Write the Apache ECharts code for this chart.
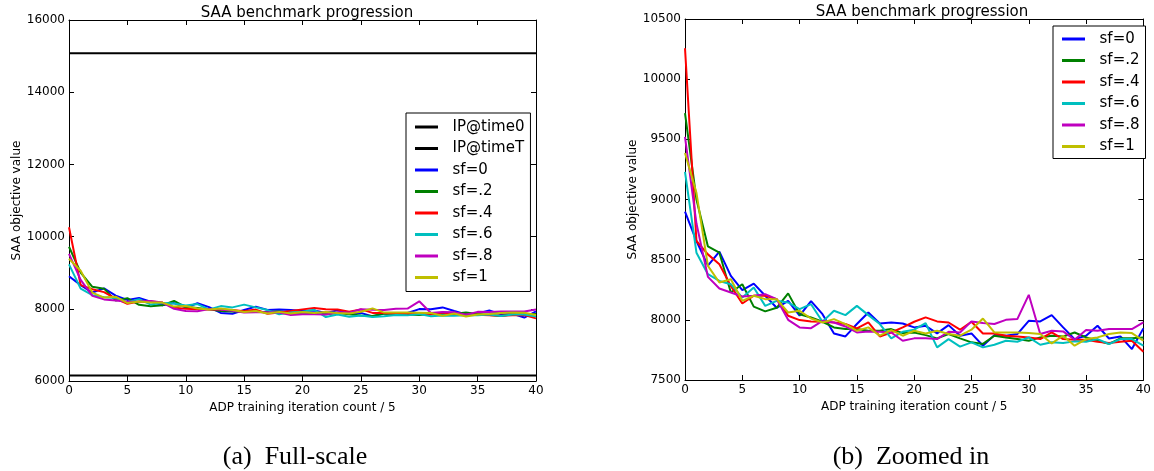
<!DOCTYPE html>
<html>
<head>
<meta charset="utf-8">
<script src="https://cdn.jsdelivr.net/npm/echarts@6/dist/echarts.min.js"></script>
<style>
html,body{margin:0;padding:0;background:#fff;}
#c{width:1154px;height:471px;}
</style>
</head>
<body>
<div id="c"></div>
<script>
const iters = [0,1,2,3,4,5,6,7,8,9,10,11,12,13,14,15,16,17,18,19,20,21,22,23,24,25,26,27,28,29,30,31,32,33,34,35,36,37,38,39,40];
const ipX = [0, 40];
const ipTime0 = [15080, 15080];
const ipTimeT = [6150, 6150];
const sf0  = [8900,8655,8450,8567,8365,8246,8301,8200,8100,8158,8034,8155,8047,7887,7862,7965,8061,7970,7978,7970,7937,7950,7887,7956,7868,7887,7785,7873,7868,7882,7992,7987,8039,7937,7840,7868,7951,7845,7862,7757,7929];
const sf02 = [9718,9000,8610,8558,8227,8296,8110,8070,8100,8220,8047,8020,7984,7937,7923,7923,7909,7909,7923,7890,7895,7873,7846,7882,7846,7813,7800,7868,7854,7840,7826,7854,7868,7862,7895,7854,7826,7800,7846,7846,7854];
const sf04 = [10257,8655,8544,8462,8282,8136,8200,8200,8172,8034,7998,7987,7984,7978,7965,7929,7978,7862,7895,7937,7984,8020,7987,7978,7918,7984,7887,7887,7868,7862,7854,7840,7895,7840,7835,7835,7818,7807,7818,7826,7735];
const sf06 = [9230,8558,8379,8323,8296,8185,8268,8116,8158,8144,8089,8130,7984,8075,8039,8116,8039,7965,7846,7901,7918,7973,7771,7840,7777,7813,7771,7793,7826,7818,7854,7793,7813,7807,7821,7818,7840,7799,7840,7840,7785];
const sf08 = [9520,8800,8357,8260,8227,8194,8200,8213,8172,8000,7937,7931,7992,7978,7945,7895,7904,7901,7895,7826,7846,7846,7840,7901,7895,7987,7973,7965,8000,8006,8208,7882,7909,7904,7835,7915,7909,7923,7923,7923,7978];
const sf1  = [9387,9055,8448,8310,8337,8158,8200,8172,8172,8061,8075,8011,7978,8006,7965,7909,7937,7868,7915,7868,7909,7887,7909,7882,7868,7918,8011,7895,7895,7895,7890,7882,7804,7868,7785,7840,7854,7882,7895,7890,7826];
const sfNames = ['sf=0','sf=.2','sf=.4','sf=.6','sf=.8','sf=1'];
const sfData = [sf0, sf02, sf04, sf06, sf08, sf1];
const sfColors = ['#0000ff','#008000','#ff0000','#00bfbf','#bf00bf','#bfbf00'];
const ipNames = ['IP@time0','IP@timeT'];
const leftYTicks = [6000, 16000, 2000];
const rightYTicks = [7500, 10500, 500];

const F = 'DejaVu Sans';
const chart = echarts.init(document.getElementById('c'));

function pair(xs, ys){ return xs.map((x,i)=>[x, ys[i]]); }

function xAx(gi, pos){
  return {type:'value', gridIndex:gi, position:pos, min:0, max:40, interval:5,
    axisLine:{show:true, onZero:false, lineStyle:{color:'#000', width:1}},
    axisTick:{show:true, inside:true, length:5, lineStyle:{color:'#000'}},
    axisLabel:{show:pos==='bottom', color:'#000', fontFamily:F, fontSize:12, margin:4, formatter: v => String(v)},
    splitLine:{show:false},
    name: pos==='bottom' ? 'ADP training iteration count / 5' : '',
    nameLocation:'middle', nameGap:19,
    nameTextStyle:{color:'#000', fontFamily:F, fontSize:12}};
}
function yAx(gi, pos, t){
  return {type:'value', gridIndex:gi, position:pos, min:t[0], max:t[1], interval:t[2],
    axisLine:{show:true, onZero:false, lineStyle:{color:'#000', width:1}},
    axisTick:{show:true, inside:true, length:5, lineStyle:{color:'#000'}},
    axisLabel:{show:pos==='left', color:'#000', fontFamily:F, fontSize:12, margin:4, formatter: v => String(v)},
    splitLine:{show:false},
    name: pos==='left' ? 'SAA objective value' : '',
    nameLocation:'middle', nameGap:44, nameRotate:90,
    nameTextStyle:{color:'#000', fontFamily:F, fontSize:12}};
}

const series = [];
series.push({name:ipNames[0], type:'line', xAxisIndex:0, yAxisIndex:0, data:pair(ipX, ipTime0), showSymbol:false, lineStyle:{color:'#000', width:2}, itemStyle:{color:'#000'}});
series.push({name:ipNames[1], type:'line', xAxisIndex:0, yAxisIndex:0, data:pair(ipX, ipTimeT), showSymbol:false, lineStyle:{color:'#000', width:2}, itemStyle:{color:'#000'}});
sfNames.forEach((n,i)=>{
  series.push({name:n, type:'line', xAxisIndex:0, yAxisIndex:0, data:pair(iters, sfData[i]), showSymbol:false, lineStyle:{color:sfColors[i], width:2}, itemStyle:{color:sfColors[i]}});
});
sfNames.forEach((n,i)=>{
  series.push({name:n, type:'line', xAxisIndex:2, yAxisIndex:2, data:pair(iters, sfData[i]), showSymbol:false, lineStyle:{color:sfColors[i], width:2}, itemStyle:{color:sfColors[i]}});
});

const legendBase = {orient:'vertical', icon:'rect', itemWidth:23, itemHeight:3, itemGap:5.5,
  borderColor:'#000', borderWidth:1, backgroundColor:'#fff',
  formatter: n => '  ' + n,
  textStyle:{color:'#000', fontFamily:F, fontSize:15, lineHeight:16}};

chart.setOption({
  animation:false,
  backgroundColor:'#fff',
  title:[
    {text:'SAA benchmark progression', left:302, top:1, textAlign:'center', textStyle:{color:'#000', fontFamily:F, fontSize:15, fontWeight:'normal'}},
    {text:'SAA benchmark progression', left:917, top:0, textAlign:'center', textStyle:{color:'#000', fontFamily:F, fontSize:15, fontWeight:'normal'}},
    {text:'(a)  Full-scale', left:290, top:439, textAlign:'center', textStyle:{color:'#000', fontFamily:'Liberation Serif', fontSize:26, fontWeight:'normal'}},
    {text:'(b)  Zoomed in', left:906, top:439, textAlign:'center', textStyle:{color:'#000', fontFamily:'Liberation Serif', fontSize:26, fontWeight:'normal'}}
  ],
  grid:[
    {left:69, right:618, top:20, bottom:90, show:false},
    {left:685, right:5, top:19, bottom:91, show:false}
  ],
  xAxis:[xAx(0,'bottom'), xAx(0,'top'), xAx(1,'bottom'), xAx(1,'top')],
  yAxis:[yAx(0,'left',leftYTicks), yAx(0,'right',leftYTicks), yAx(1,'left',rightYTicks), yAx(1,'right',rightYTicks)],
  legend:[
    Object.assign({}, legendBase, {data:ipNames.concat(sfNames), left:406, top:113, padding:[6,6,6,9]}),
    Object.assign({}, legendBase, {data:sfNames.slice(), left:1053, top:26, padding:[5,6,4,9]})
  ],
  series: series
});
</script>
</body>
</html>
